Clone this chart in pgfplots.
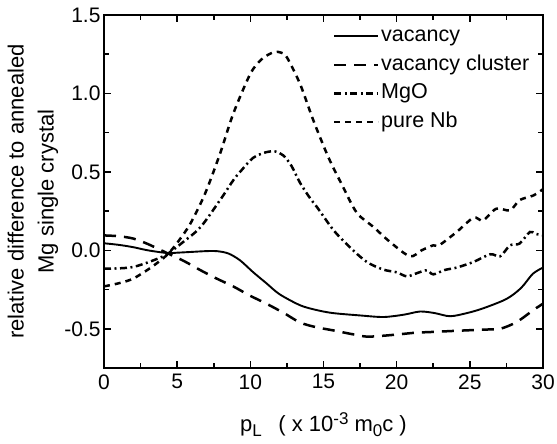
\documentclass[border=0pt]{standalone}
\usepackage{fontspec}
\setmainfont{Liberation Sans}
\usepackage{pgfplots}
\pgfplotsset{compat=1.18}
\newcommand{\fT}{\fontsize{21}{25}\selectfont}
\newcommand{\fY}{\fontsize{22}{30}\selectfont}
\newcommand{\fX}{\fontsize{22}{26}\selectfont}
\newcommand{\fS}{\fontsize{17}{20}\selectfont}
\newcommand{\fL}{\fontsize{21.5}{25}\selectfont}
\begin{document}
\begin{tikzpicture}
\path[use as bounding box] (-104pt,-76pt) rectangle (453pt,368pt);
\begin{axis}[
  at={(0,0)}, anchor=south west,
  scale only axis, width=439pt, height=353pt,
  xmin=0, xmax=30, ymin=-0.75, ymax=1.5,
  xtick={0,5,10,15,20,25,30},
  xticklabels={0,5,10,15,20,25,30},
  ytick={-0.5,0,0.5,1,1.5},
  yticklabels={-0.5,0.0,0.5,1.0,1.5},
  minor x tick num=1, minor y tick num=1,
  major tick length=7pt, minor tick length=5pt,
  every tick/.style={line width=1.6pt, black},
  axis line style={line width=2.4pt},
  tick label style={font=\fT},
  xticklabel style={yshift=-3pt},
  ylabel={relative difference to annealed\\Mg single crystal},
  ylabel style={align=center, at={(axis description cs:-0.1617,0.5)}, anchor=center, font=\fY},
  xlabel={p\raisebox{-0.35ex}{\fS L}\hspace{0.75em}( x 10\raisebox{0.6ex}{\fS -3} m\raisebox{-0.35ex}{\fS 0}c )},
  xlabel style={at={(axis description cs:0.5,-0.161)}, anchor=center, font=\fX},
  legend style={draw=none, fill=none, at={(axis description cs:0.5216,0.9715)}, anchor=north west,
    font=\fL, inner sep=0pt, row sep=6.5pt,
    nodes={inner sep=1.5pt, text height=15pt, text depth=4pt}},
  legend cell align=left,
  legend image code/.code={\draw[#1] (0pt,0pt) -- (44pt,0pt);},
  every axis plot/.append style={black, smooth, tension=0.5},
]
\addplot[line width=1.9pt, solid] coordinates {
(0,0.045) (1,0.035) (2,0.02) (3,0.0) (4.3,-0.017) (5,-0.015) (6,-0.01) (7,-0.005) (7.7,-0.005) (8.5,-0.02) (9.3,-0.064) (10.2,-0.14) (11.1,-0.21) (12,-0.28) (13.4,-0.35) (14.5,-0.38) (15.65,-0.40) (17.5,-0.415) (19.1,-0.425) (20.5,-0.41) (21.6,-0.39) (22.6,-0.40) (23.65,-0.42) (24.8,-0.40) (25.9,-0.37) (27.5,-0.31) (28.5,-0.24) (29.3,-0.15) (30,-0.11)
};
\addlegendentry{vacancy}
\addplot[line width=2.5pt, dash pattern=on 12pt off 8pt] coordinates {
(0,0.095) (1,0.09) (2,0.075) (3,0.04) (4.3,-0.017) (5.5,-0.07) (6.6,-0.127) (7.7,-0.18) (8.83,-0.23) (10,-0.29) (11.1,-0.34) (12.3,-0.40) (13.4,-0.46) (14.5,-0.49) (15.65,-0.51) (17,-0.535) (17.96,-0.55) (19,-0.545) (20.2,-0.535) (21.3,-0.525) (22.5,-0.52) (23.6,-0.515) (24.8,-0.51) (26,-0.505) (27.07,-0.50) (28.2,-0.457) (29.35,-0.38) (30,-0.34)
};
\addlegendentry{vacancy cluster}
\addplot[line width=2.5pt, dash pattern=on 7pt off 3.5pt on 2pt off 3.5pt] coordinates {
(0,-0.117) (1,-0.115) (2,-0.106) (3.2,-0.07) (4.3,-0.025) (5.5,0.06) (6.6,0.148) (7.93,0.32) (8.83,0.446) (9.3,0.50) (10.2,0.59) (11.1,0.626) (11.7,0.63) (12.25,0.605) (12.8,0.54) (13.4,0.43) (14.1,0.33) (14.55,0.276) (15.7,0.127) (16.8,0.02) (17.96,-0.074) (19.1,-0.123) (20.0,-0.14) (20.7,-0.166) (21.4,-0.145) (22.06,-0.127) (22.5,-0.153) (23.3,-0.125) (24.1,-0.11) (25.25,-0.074) (26.4,-0.025) (27.07,-0.038) (27.75,0.032) (28.4,0.043) (29.1,0.117) (29.5,0.105) (30,0.096)
};
\addlegendentry{MgO}
\addplot[line width=2.5pt, dash pattern=on 6pt off 5pt] coordinates {
(0,-0.23) (1,-0.21) (2,-0.18) (3.2,-0.11) (4.3,-0.03) (5.1,0.06) (5.9,0.17) (6.9,0.36) (7.93,0.616) (8.83,0.87) (10.0,1.125) (10.8,1.22) (11.6,1.263) (12.1,1.26) (12.5,1.23) (13.4,1.06) (14.3,0.83) (15.33,0.594) (16.25,0.42) (17.27,0.24) (18.4,0.15) (19.55,0.053) (20.9,-0.038) (21.7,0.0) (22.5,0.032) (22.9,0.032) (24.1,0.117) (25.25,0.208) (25.9,0.19) (26.8,0.265) (27.75,0.255) (28.4,0.32) (29.35,0.35) (30,0.39)
};
\addlegendentry{pure Nb}
\end{axis}
\end{tikzpicture}
\end{document}
